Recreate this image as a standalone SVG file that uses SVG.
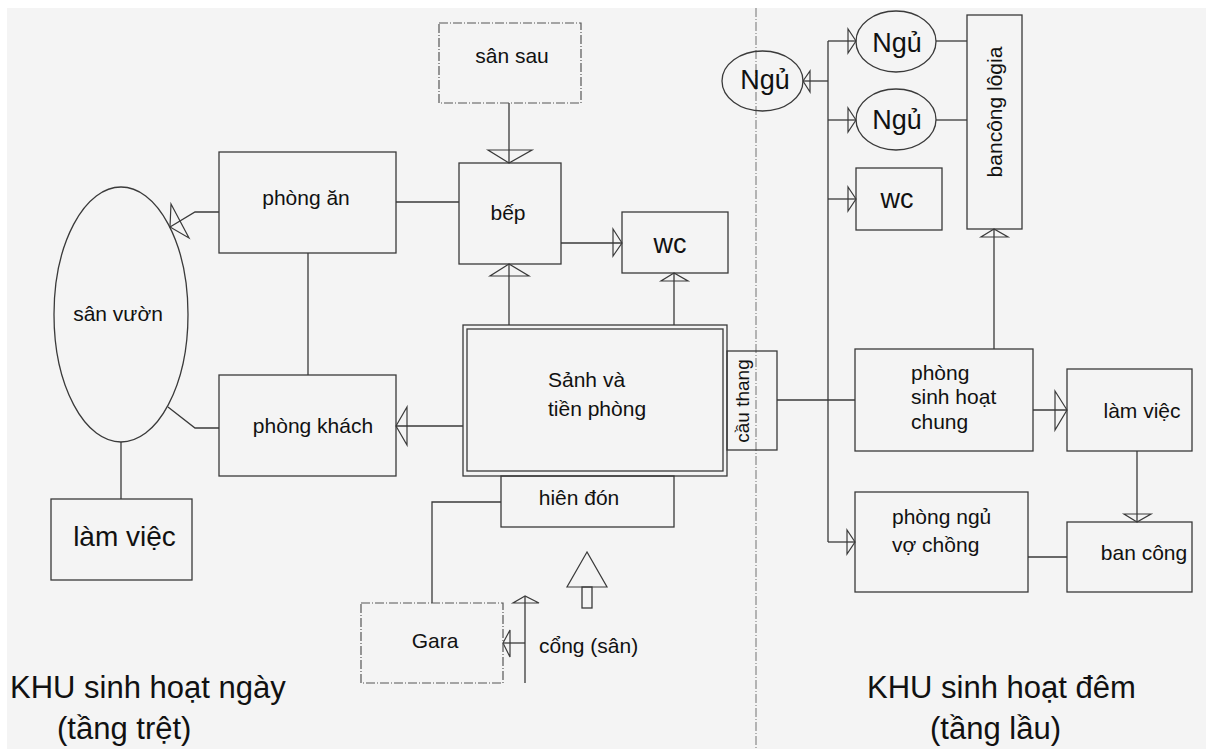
<svg xmlns="http://www.w3.org/2000/svg" width="1206" height="749" viewBox="0 0 1206 749">
<style>
.n{fill:none;stroke:#3a3a3a;stroke-width:1.3}
.dd{fill:none;stroke:#555;stroke-width:1.2;stroke-dasharray:9 2 1 2}
.c{fill:none;stroke:#3a3a3a;stroke-width:1.3}
.h{fill:none;stroke:#3a3a3a;stroke-width:1.2}
text{font-family:"Liberation Sans",Arial,sans-serif;font-size:21px;fill:#111}
.m{text-anchor:middle}
.big{font-size:27px}
.khu{font-size:31px}
</style>
<rect width="1206" height="749" fill="#fff"/>
<rect x="7" y="8" width="1199" height="741" fill="#f4f4f4"/>
<line x1="756" y1="8" x2="756" y2="749" stroke="#888" stroke-width="1.2" stroke-dasharray="9 2 1 2"/>

<g id="connectors">
<polyline class="c" points="219,212 195,212 170,227"/>
<polygon class="h" points="170,227 171,204 189,238"/>
<line class="c" x1="463" y1="426" x2="396" y2="426"/>
<polygon class="h" points="396,426 407,407 407,445"/>
<line class="c" x1="509" y1="103" x2="509" y2="163"/>
<polygon class="h" points="509,163 488,150 532,150"/>
<line class="c" x1="561" y1="243" x2="622" y2="243"/>
<polygon class="h" points="622,243 613,229 613,256"/>
<line class="c" x1="509" y1="325" x2="509" y2="264"/>
<polygon class="h" points="509,264 490,276 529,276"/>
<line class="c" x1="674" y1="325" x2="674" y2="273"/>
<polygon class="h" points="674,273 661,281 688,281"/>
<polyline class="c" points="501,502 432,502 432,603"/>
<line class="c" x1="525" y1="643" x2="503" y2="643"/>
<polygon class="h" points="503,643 510,630 510,657"/>
<line class="c" x1="525" y1="683" x2="525" y2="596"/>
<polygon class="h" points="525,596 513,603 539,603"/>
<polygon class="h" points="587,552 567,587 607,587"/>
<rect class="n" x="582" y="587" width="10" height="21"/>
<line class="c" x1="777" y1="400" x2="855" y2="400"/>
<line class="c" x1="828" y1="41" x2="828" y2="542"/>
<line class="c" x1="828" y1="81" x2="803" y2="81"/>
<polygon class="h" points="803,81 810,71 810,92"/>
<line class="c" x1="828" y1="41" x2="856" y2="41"/>
<polygon class="h" points="856,41 848,29 848,53"/>
<line class="c" x1="828" y1="120" x2="856" y2="120"/>
<polygon class="h" points="856,120 848,108 848,132"/>
<line class="c" x1="828" y1="199" x2="856" y2="199"/>
<polygon class="h" points="856,199 848,187 848,211"/>
<line class="c" x1="828" y1="542" x2="855" y2="542"/>
<polygon class="h" points="855,542 847,530 847,554"/>
<line class="c" x1="936" y1="41" x2="967" y2="41"/>
<line class="c" x1="936" y1="120" x2="967" y2="120"/>
<line class="c" x1="994" y1="349" x2="994" y2="229"/>
<polygon class="h" points="994,229 981,237 1008,237"/>
<line class="c" x1="1033" y1="410" x2="1067" y2="410"/>
<polygon class="h" points="1067,410 1055,391 1055,430"/>
<line class="c" x1="1137" y1="451" x2="1137" y2="522"/>
<polygon class="h" points="1137,522 1124,514 1151,514"/>
<line class="c" x1="1028" y1="557" x2="1067" y2="557"/>
<line class="c" x1="396" y1="202" x2="459" y2="202"/>
<line class="c" x1="308" y1="253" x2="308" y2="375"/>
<polyline class="c" points="219,428 195,428 168,407"/>
<line class="c" x1="121" y1="442" x2="121" y2="499"/>
</g>

<g id="san-vuon"><ellipse class="n" cx="121" cy="314.5" rx="67" ry="127.5"/><text class="m" x="118" y="321">sân vườn</text></g>
<g id="phong-an"><rect class="n" x="219" y="152" width="177" height="101"/><text class="m" x="306" y="205">phòng ăn</text></g>
<g id="phong-khach"><rect class="n" x="219" y="375" width="177" height="101"/><text class="m" x="313" y="433">phòng khách</text></g>
<g id="lam-viec-1"><rect class="n" x="51" y="499" width="141" height="81"/><text class="m" x="124.5" y="546" style="font-size:28px">làm việc</text></g>
<g id="san-sau"><rect class="dd" x="439" y="23" width="142" height="80"/><text class="m" x="512" y="63">sân sau</text></g>
<g id="bep"><rect class="n" x="459" y="163" width="102" height="101"/><text class="m" x="508" y="220">bếp</text></g>
<g id="wc-1"><rect class="n" x="622" y="212" width="106" height="61"/><text class="m big" x="670" y="253">wc</text></g>
<g id="sanh"><rect class="n" x="463" y="325" width="264" height="151"/><rect class="n" x="467" y="329" width="256" height="142"/><text x="548" y="387">Sảnh và</text><text x="548" y="416">tiền phòng</text></g>
<g id="cau-thang"><rect class="n" x="727" y="351" width="50" height="99"/><text class="m" transform="translate(749,401) rotate(-90)" x="0" y="0" style="font-size:19px">cầu thang</text></g>
<g id="hien-don"><rect class="n" x="501" y="476" width="173" height="51"/><text class="m" x="579" y="505">hiên đón</text></g>
<g id="gara"><rect class="dd" x="361" y="603" width="142" height="80"/><text class="m" x="435" y="648">Gara</text></g>
<g id="cong"><text x="539" y="653">cổng (sân)</text></g>
<g id="ngu-1"><ellipse class="n" cx="762.5" cy="81" rx="40.5" ry="30"/><text class="m big" x="765" y="89">Ngủ</text></g>
<g id="ngu-2"><ellipse class="n" cx="896" cy="41.5" rx="40" ry="30.5"/><text class="m big" x="897" y="52">Ngủ</text></g>
<g id="ngu-3"><ellipse class="n" cx="896" cy="119.5" rx="40" ry="30.5"/><text class="m big" x="897" y="129">Ngủ</text></g>
<g id="wc-2"><rect class="n" x="856" y="168" width="86" height="62"/><text class="m big" x="897" y="208">wc</text></g>
<g id="bancong-logia"><rect class="n" x="967" y="15" width="55" height="214"/><text class="m" transform="translate(1002,112) rotate(-90)" x="0" y="0">bancông lôgia</text></g>
<g id="phong-sinh-hoat"><rect class="n" x="855" y="349" width="178" height="102"/><text x="911" y="380">phòng</text><text x="911" y="404">sinh hoạt</text><text x="911" y="429">chung</text></g>
<g id="lam-viec-2"><rect class="n" x="1067" y="369" width="125" height="82"/><text class="m" x="1142" y="418">làm việc</text></g>
<g id="phong-ngu-vo-chong"><rect class="n" x="855" y="492" width="173" height="100"/><text x="892" y="524">phòng ngủ</text><text x="892" y="552">vợ chồng</text></g>
<g id="ban-cong"><rect class="n" x="1067" y="522" width="125" height="70"/><text class="m" x="1144" y="560">ban công</text></g>

<g id="labels">
<text class="khu" x="10" y="698">KHU sinh hoạt ngày</text>
<text class="khu" x="57" y="739">(tầng trệt)</text>
<text class="khu" x="867" y="698">KHU sinh hoạt đêm</text>
<text class="khu" x="930" y="739">(tầng lầu)</text>
</g>
</svg>
